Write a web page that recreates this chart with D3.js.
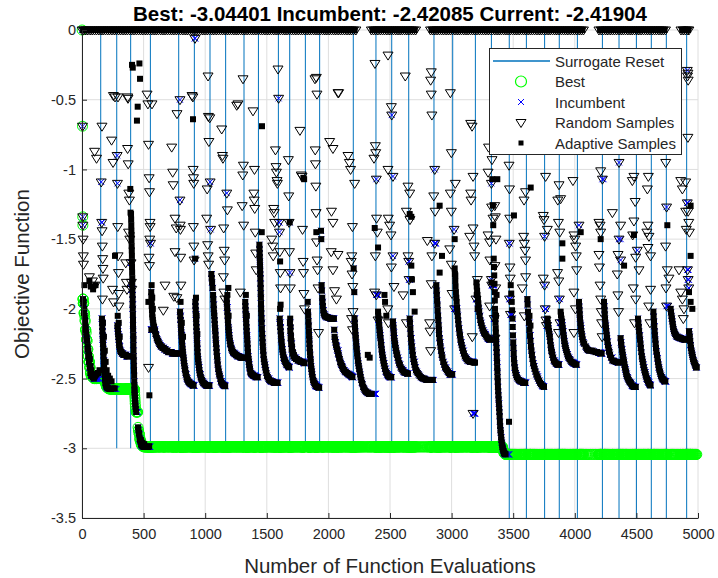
<!DOCTYPE html>
<html>
<head>
<meta charset="utf-8">
<script src="https://cdn.jsdelivr.net/npm/d3@7"></script>
<style>
body{margin:0;background:#fff;}
text{font-family:"Liberation Sans",Arial,Helvetica,sans-serif;}
</style>
</head>
<body>
<script>
// evaluations at which the surrogate was reset, and the y-limit in force when each line was drawn
var resetEvals = [152, 282, 395, 555, 785, 912, 1039, 1166, 1315, 1432, 1594, 1686, 1813, 1929, 2202, 2386, 2514,
                  2652, 2857, 3009, 3193, 3323, 3468, 3607, 3755, 3874, 4021, 4224, 4359, 4500, 4621, 4743, 4908];
var resetFloors = [-2.5, -3, -3, -3, -3, -3, -3, -3, -3, -3, -3, -3, -3, -3, -3, -3, -3,
                   -3, -3, -3, -3, -3, -3.5, -3.5, -3.5, -3.5, -3.5, -3.5, -3.5, -3.5, -3.5, -3.5, -3.5];

// random samples that came back as 0 (the band along the top)
var zeroSampleEvals = [1, 14, 31, 47, 66, 83, 101, 118, 137, 155, 171, 190, 208, 224, 243, 262, 279, 297, 314, 333,
  351, 368, 387, 404, 422, 441, 459, 476, 494, 513, 530, 548, 567, 585, 602, 620, 639, 657, 674, 693, 711, 728, 746,
  765, 783, 800, 819, 837, 854, 872, 891, 909, 926, 944, 963, 981, 998, 1016, 1035, 1053, 1070, 1089, 1107, 1124,
  1142, 1161, 1179, 1196, 1214, 1233, 1251, 1268, 1287, 1305, 1322, 1340, 1359, 1377, 1394, 1412, 1431, 1449, 1466,
  1485, 1503, 1520, 1538, 1557, 1575, 1592, 1610, 1629, 1647, 1664, 1683, 1701, 1718, 1736, 1755, 1773, 1790, 1808,
  1827, 1845, 1862, 1881, 1899, 1916, 1934, 1953, 1971, 1988, 2006, 2025, 2043, 2060, 2079, 2097, 2114, 2132, 2151,
  2169, 2186, 2204, 2223, 2349, 2367, 2384, 2402, 2421, 2439, 2456, 2475, 2493, 2510, 2528, 2547, 2565, 2582, 2600,
  2619, 2637, 2654, 2673, 2691, 2708, 2829, 2847, 2864, 2882, 2901, 2919, 2936, 2955, 2973, 2990, 3008, 3027, 3045,
  3062, 3080, 3099, 3117, 3134, 3153, 3171, 3188, 3206, 3225, 3243, 3260, 3278, 3297, 3315, 3332, 3351, 3369, 3386,
  3404, 3423, 3441, 3458, 3476, 3495, 3513, 3530, 3548, 3567, 3585, 3602, 3621, 3639, 3656, 3674, 3693, 3711, 3728,
  3746, 3765, 3783, 3800, 3819, 3837, 3854, 3872, 3891, 3909, 3926, 3944, 3963, 3981, 3998, 4016, 4035, 4053, 4070,
  4196, 4214, 4233, 4251, 4268, 4287, 4305, 4322, 4340, 4359, 4377, 4394, 4412, 4431, 4449, 4466, 4485, 4503, 4520,
  4538, 4557, 4575, 4592, 4610, 4629, 4647, 4664, 4683, 4701, 4718, 4736, 4862, 4880, 4897, 4915, 4926];

// adaptive samples that came back as 0
var zeroAdaptiveEvals = [9, 38, 57, 92, 128, 163, 199, 233, 270, 306, 342, 377, 413, 450, 485, 521, 557, 593, 629,
  665, 701, 737, 774, 810, 846, 881, 917, 953, 989, 1025, 1062, 1098, 1133, 1170, 1205, 1242, 1277, 1313, 1350, 1386,
  1421, 1458, 1494, 1529, 1566, 1601, 1638, 1673, 1709, 1746, 1781, 1818, 1853, 1890, 1925, 1962, 1997, 2034, 2069,
  2106, 2141, 2177, 2213, 2358, 2393, 2430, 2465, 2501, 2537, 2573, 2609, 2645, 2682, 2700, 2838, 2873, 2910, 2945,
  2981, 3017, 3053, 3090, 3125, 3162, 3197, 3233, 3269, 3306, 3341, 3378, 3413, 3449, 3486, 3521, 3557, 3593, 3629,
  3665, 3701, 3737, 3774, 3809, 3845, 3881, 3917, 3953, 3989, 4025, 4061, 4205, 4241, 4277, 4313, 4349, 4386, 4421,
  4457, 4493, 4529, 4565, 4601, 4637, 4673, 4709, 4728, 4871, 4906, 4920];

// other random samples [evaluation, objective]
var randomSamples = [
  [4,-0.69],[6,-1.34],[7,-1.40],[9,-1.50],[11,-1.62],[12,-1.68],[102,-0.87],[118,-0.92],[60,-1.77],[85,-1.80],[105,-1.83],[162,-0.69],
  [156,-1.09],[160,-1.38],[163,-1.44],[165,-1.55],[168,-1.64],[170,-1.71],[172,-1.78],[166,-1.93],[240,-0.79],[252,-0.95],[248,-1.86],[256,-1.95],[268,-0.48],[255,-0.47],
  [285,-0.90],[288,-1.10],[290,-1.41],[293,-1.62],[296,-1.74],[298,-1.89],[300,-1.98],[292,-0.48],[371,-0.48],[373,-0.49],[370,-0.85],[375,-0.96],[380,-1.17],[385,-1.22],[378,-1.45],[388,-1.50],[355,-1.67],[360,-1.81],[365,-1.86],
  [398,-1.67],[401,-1.81],[404,-1.86],[528,-0.46],[535,-0.53],[540,-0.82],[545,-1.06],[548,-1.16],[552,-1.38],[553,-1.41],[550,-1.50],[556,-1.53],[544,-1.63],[548,-1.69],[540,-2.42],[568,-0.53],
  [660,-2.01],[674,-1.83],[728,-0.84],[736,-1.02],[740,-1.11],[755,-1.35],[765,-1.42],[755,-1.59],[745,-1.91],[770,-1.92],[771,-0.60],[795,-0.50],
  [795,-1.22],[797,-1.40],[799,-1.43],[801,-1.63],[803,-1.83],[893,-0.47],[900,-0.48],[902,-1.00],[905,-1.06],[907,-1.10],[904,-1.41],[908,-1.55],[910,-1.65],[917,-0.06],
  [1012,-1.35],[1016,-1.14],[1020,-1.54],[1024,-1.62],[1028,-1.68],[1023,-0.33],[1026,-0.62],[1030,-0.80],[1040,-1.09],[1044,-1.43],[1037,-0.63],
  [1134,-0.71],[1140,-0.90],[1144,-0.92],[1150,-1.42],[1154,-1.58],[1158,-1.65],[1148,-1.77],[1152,-1.88],[1160,-1.93],
  [1175,-1.17],[1180,-1.29],[1256,-0.54],[1266,-0.53],[1307,-0.35],[1310,-0.97],[1305,-1.04],[1300,-1.26],[1312,-1.40],[1285,-1.88],
  [1388,-0.58],[1400,-1.00],[1395,-1.17],[1398,-1.22],[1402,-1.28],[1406,-1.45],[1410,-1.60],[1414,-1.72],
  [1540,-1.50],[1548,-1.55],[1552,-1.62],[1556,-1.28],[1560,-1.31],[1564,-1.38],[1570,-0.86],[1575,-0.98],[1578,-1.02],[1583,-1.08],[1586,-1.10],[1591,-0.28],[1596,-0.49],
  [1600,-1.38],[1603,-1.45],[1606,-1.59],[1609,-1.74],[1612,-1.85],[1675,-0.93],[1678,-1.19],[1681,-1.38],[1684,-1.59],[1688,-1.74],[1691,-1.85],
  [1769,-0.72],[1780,-1.04],[1786,-1.05],[1790,-1.43],[1795,-1.66],[1798,-1.74],[1801,-1.89],[1806,-2.00],
  [1891,-0.35],[1902,-0.34],[1907,-0.46],[1893,-0.86],[1895,-0.96],[1898,-1.12],[1900,-1.31],[1904,-1.52],[1908,-1.65],[1912,-1.72],[1916,-1.85],[1920,-2.17],
  [2083,-0.45],[2078,-0.45],[2010,-0.80],[2037,-0.85],[2025,-1.30],[2037,-1.38],[2023,-1.59],[2078,-1.61],[2037,-1.72],[2050,-1.87],[2065,-1.93],[2159,-0.90],[2170,-0.95],[2180,-1.00],[2213,-1.10],[2195,-1.41],[2190,-1.62],[2185,-1.66],[2192,-1.75],[2198,-1.84],[2200,-2.02],[2188,-2.07],[2196,-2.15],
  [2378,-0.24],[2381,-0.83],[2384,-0.88],[2389,-1.07],[2370,-0.92],[2391,-1.35],[2397,-1.45],[2381,-1.62],[2375,-1.88],[2389,-1.90],[2403,-2.08],
  [2484,-0.18],[2511,-0.55],[2514,-0.61],[2484,-1.00],[2524,-1.05],[2486,-1.35],[2497,-1.40],[2508,-1.47],[2524,-1.62],[2511,-1.70],[2532,-1.84],[2482,-2.00],[2487,-2.10],
  [2624,-0.33],[2646,-1.12],[2660,-1.17],[2633,-1.30],[2662,-1.36],[2646,-1.62],[2652,-1.66],[2655,-1.79],[2606,-1.90],[2633,-2.10],
  [2835,-0.30],[2830,-0.36],[2835,-0.46],[2840,-0.61],[2863,-1.00],[2855,-1.19],[2866,-1.30],[2803,-1.51],[2863,-1.53],[2840,-1.62],[2835,-1.82],[2822,-2.10],[2825,-2.16],[2830,-2.30],
  [2990,-0.45],[2998,-0.88],[3030,-1.10],[2990,-1.17],[2998,-1.30],[3020,-1.43],[2985,-1.57],[2998,-1.68],[3004,-1.89],[3025,-2.00],
  [3155,-0.67],[3166,-0.69],[3174,-1.05],[3155,-1.17],[3158,-1.22],[3174,-1.42],[3147,-1.48],[3182,-1.55],[3187,-1.62],[3209,-1.79],[3168,-2.20],[3174,-2.75],[3198,-1.93],
  [3300,-0.84],[3328,-0.93],[3296,-1.02],[3323,-1.10],[3325,-1.27],[3336,-1.35],[3296,-1.47],[3309,-1.52],[3311,-1.65],[3323,-1.79],[3326,-1.83],[3309,-1.98],
  [3466,-0.97],[3470,-1.14],[3472,-1.35],[3468,-1.53],[3474,-1.70],[3476,-1.78],[3470,-1.93],[3478,-2.04],[3350,-1.26],[3355,-1.34],[3360,-1.50],[3352,-1.69],[3358,-1.85],[3346,-2.07],[3352,-2.21],
  [3588,-1.22],[3600,-1.16],[3585,-1.48],[3590,-1.53],[3596,-1.58],[3600,-1.65],[3601,-1.77],[3574,-1.85],[3590,-2.05],
  [3763,-1.05],[3744,-1.33],[3750,-1.36],[3777,-1.43],[3755,-1.48],[3744,-1.78],[3755,-1.83],[3760,-2.00],[3766,-2.08],[3770,-2.12],
  [3872,-1.11],[3885,-1.21],[3862,-1.22],[3867,-1.38],[3878,-1.45],[3860,-1.74],[3870,-1.80],[3875,-1.93],[3880,-2.10],[3868,-2.17],
  [3985,-1.08],[4034,-1.40],[3993,-1.47],[4000,-1.50],[4007,-1.55],[4012,-1.62],[4015,-1.72],[3993,-1.88],[4005,-2.00],[3993,-2.17],
  [4210,-1.01],[4224,-1.07],[4196,-1.38],[4205,-1.40],[4210,-1.45],[4196,-1.61],[4200,-1.70],[4205,-1.83],[4210,-1.93],[4215,-2.02],[4218,-2.10],[4222,-2.20],
  [4359,-0.95],[4305,-1.31],[4372,-1.40],[4359,-1.50],[4351,-1.61],[4372,-1.65],[4345,-1.75],[4350,-1.90],[4355,-2.02],
  [4480,-1.05],[4467,-1.08],[4490,-1.23],[4480,-1.37],[4470,-1.47],[4507,-1.58],[4494,-1.63],[4521,-1.72],[4475,-1.85],[4494,-1.93],[4485,-2.10],
  [4597,-1.05],[4589,-1.14],[4594,-1.40],[4585,-1.45],[4602,-1.48],[4594,-1.56],[4615,-1.62],[4615,-1.86],[4600,-1.98],[4610,-2.10],
  [4738,-0.95],[4745,-1.27],[4737,-1.55],[4751,-1.72],[4764,-1.78],[4740,-1.85],[4745,-1.98],
  [4860,-1.08],[4900,-1.09],[4873,-1.14],[4900,-1.30],[4905,-1.43],[4846,-1.72],[4860,-1.88],[4873,-1.93],[4886,-2.00],[4881,-2.07],
  [4913,-0.29],[4915,-0.33],[4918,-0.31],[4920,-0.36],[4918,-0.77],[4913,-1.24],[4920,-1.30],[4925,-1.38],[4930,-1.45],[4915,-1.72],[4920,-1.79],[4925,-1.85]
];

// adaptive samples [evaluation, objective]
var adaptiveSamples = [
  [8,-1.93],[14,-1.95],[18,-2.00],[22,-2.05],[26,-2.09],[30,-2.13],[34,-2.17],[38,-2.20],[42,-2.23],[47,-2.27],[52,-2.30],[58,-2.33],[64,-2.36],[70,-2.41],[76,-2.44],[82,-2.47],[88,-2.49],[96,-2.50],[106,-2.48],[118,-2.47],[130,-2.46],[142,-2.44],[60,-1.80],[72,-1.84],[90,-1.86],[110,-1.83],[20,-1.83],
  [10,-1.96],[16,-2.03],[24,-2.08],[28,-2.15],[36,-2.22],[44,-2.29],[50,-2.34],[56,-2.38],[62,-2.42],[68,-2.46],[74,-2.48],[100,-2.49],[112,-2.47],
  [162,-2.07],[165,-2.13],[168,-2.19],[171,-2.25],[174,-2.31],[177,-2.37],[180,-2.42],[184,-2.47],[188,-2.51],[193,-2.54],[200,-2.56],[210,-2.57],[222,-2.575],[236,-2.575],[250,-2.57],[265,-2.57],[170,-2.10],[178,-2.20],[185,-2.30],[192,-2.38],[200,-2.44],[212,-2.48],[226,-2.50],[240,-2.52],
  [163,-2.10],[166,-2.16],[169,-2.22],[172,-2.28],[175,-2.34],[178,-2.40],[182,-2.45],[186,-2.49],[190,-2.53],[196,-2.55],[205,-2.565],
  [288,-2.12],[292,-2.16],[296,-2.20],[300,-2.24],[305,-2.27],[312,-2.30],[320,-2.31],[330,-2.32],[342,-2.33],[355,-2.33],[368,-2.34],[380,-2.34],[290,-2.05],[298,-2.10],[306,-2.20],[392,-1.14],[394,-1.31],
  [290,-2.14],[294,-2.18],[298,-2.22],[302,-2.26],[308,-2.29],[316,-2.31],[325,-2.32],[336,-2.33],[348,-2.33],[362,-2.34],[374,-2.34],
  [406,-0.25],[412,-0.27],[466,-0.24],[471,-0.35],[452,-0.55],[446,-0.65],
  [398,-1.32],[400,-1.40],[402,-1.47],[403,-1.55],[405,-1.62],[406,-1.70],[408,-1.78],[409,-1.86],[411,-1.93],[412,-2.00],[414,-2.08],[415,-2.15],[417,-2.22],[418,-2.30],[420,-2.37],[422,-2.44],[424,-2.52],[426,-2.58],[428,-2.62],[431,-2.66],[434,-2.70],[437,-2.72],[440,-2.74],
  [399,-1.36],[401,-1.44],[402,-1.51],[404,-1.58],[405,-1.66],[407,-1.74],[408,-1.82],[410,-1.90],[411,-1.97],[413,-2.04],[414,-2.12],[416,-2.19],[417,-2.26],[419,-2.34],[421,-2.41],[423,-2.48],[425,-2.55],[427,-2.60],[430,-2.64],[432,-2.68],
  [455,-2.85],[462,-2.89],[468,-2.93],[474,-2.95],[480,-2.97],[486,-2.98],[492,-2.985],[500,-2.99],[510,-2.99],[520,-2.99],[532,-2.99],[545,-2.985],[465,-2.90],[478,-2.94],[490,-2.96],[505,-2.97],[547,-2.62],
  [458,-2.87],[471,-2.94],[483,-2.975],[496,-2.985],[515,-2.99],[526,-2.99],[538,-2.99],
  [562,-1.88],[565,-1.95],[568,-2.01],[572,-2.06],[578,-2.10],[585,-2.13],[593,-2.16],[602,-2.19],[612,-2.22],[622,-2.24],[634,-2.26],[648,-2.27],[662,-2.28],[676,-2.29],[692,-2.30],[708,-2.31],[724,-2.31],[740,-2.32],[756,-2.32],[772,-2.32],[565,-1.83],[570,-1.92],[575,-2.00],[563,-2.15],
  [563,-1.91],[566,-1.98],[570,-2.04],[575,-2.08],[581,-2.12],[589,-2.15],[597,-2.18],[607,-2.21],[617,-2.23],[628,-2.25],[641,-2.27],[655,-2.28],[669,-2.29],[684,-2.30],[700,-2.31],[716,-2.31],[732,-2.32],[748,-2.32],[764,-2.32],[780,-2.32],
  [796,-2.02],[800,-2.08],[804,-2.14],[808,-2.19],[812,-2.24],[816,-2.29],[821,-2.33],[826,-2.37],[832,-2.41],[838,-2.44],[845,-2.47],[853,-2.50],[862,-2.52],[872,-2.53],[884,-2.54],[896,-2.545],[906,-2.55],[901,-0.64],[800,-1.95],[810,-2.10],[820,-2.20],
  [798,-2.05],[802,-2.11],[806,-2.17],[810,-2.22],[814,-2.27],[818,-2.31],[824,-2.35],[829,-2.39],[835,-2.43],[841,-2.46],[849,-2.49],[857,-2.51],[867,-2.525],[878,-2.535],[890,-2.54],[901,-2.55],
  [920,-1.95],[923,-2.01],[926,-2.07],[929,-2.13],[932,-2.19],[935,-2.25],[938,-2.31],[942,-2.36],[947,-2.40],[953,-2.44],[960,-2.47],[968,-2.50],[978,-2.52],[990,-2.535],[1002,-2.545],[1015,-2.55],[1028,-2.55],[925,-1.92],[930,-2.05],[936,-2.18],
  [921,-1.98],[924,-2.04],[927,-2.10],[930,-2.16],[933,-2.22],[936,-2.28],[940,-2.34],[944,-2.38],[950,-2.42],[956,-2.46],[964,-2.49],[973,-2.51],[984,-2.53],[996,-2.54],[1008,-2.55],[1022,-2.55],[1034,-2.55],
  [1050,-1.75],[1053,-1.78],[1060,-1.85],[1064,-1.90],[1066,-1.93],[1070,-2.00],[1074,-2.05],[1078,-2.11],[1082,-2.16],[1086,-2.22],[1091,-2.28],[1096,-2.34],[1102,-2.40],[1110,-2.45],[1118,-2.48],[1128,-2.52],[1140,-2.54],[1152,-2.55],[1162,-2.555],
  [1056,-1.81],[1068,-1.97],[1072,-2.03],[1076,-2.08],[1080,-2.14],[1084,-2.19],[1088,-2.25],[1093,-2.31],[1099,-2.37],[1106,-2.43],[1114,-2.47],[1123,-2.50],[1134,-2.53],[1146,-2.545],[1157,-2.55],
  [1175,-1.93],[1178,-1.99],[1182,-2.05],[1186,-2.10],[1190,-2.15],[1195,-2.19],[1200,-2.23],[1207,-2.26],[1215,-2.29],[1225,-2.31],[1236,-2.32],[1250,-2.33],[1264,-2.34],[1280,-2.345],[1296,-2.35],[1310,-2.35],[1180,-1.90],[1190,-2.05],
  [1176,-1.96],[1180,-2.02],[1184,-2.08],[1188,-2.13],[1192,-2.17],[1197,-2.21],[1203,-2.25],[1211,-2.28],[1220,-2.30],[1230,-2.315],[1243,-2.325],[1257,-2.335],[1272,-2.34],[1288,-2.35],[1303,-2.35],
  [1325,-1.95],[1328,-2.01],[1331,-2.07],[1335,-2.13],[1339,-2.19],[1343,-2.25],[1347,-2.31],[1352,-2.36],[1357,-2.40],[1363,-2.43],[1370,-2.46],[1380,-2.47],[1392,-2.48],[1405,-2.485],[1420,-2.49],[1330,-1.90],[1338,-2.05],
  [1326,-1.98],[1329,-2.04],[1333,-2.10],[1337,-2.16],[1341,-2.22],[1345,-2.28],[1349,-2.34],[1354,-2.38],[1360,-2.42],[1366,-2.45],[1375,-2.465],[1386,-2.475],[1398,-2.48],[1412,-2.49],[1426,-2.49],
  [1461,-0.69],[1440,-1.54],[1442,-1.60],[1444,-1.66],[1446,-1.72],[1448,-1.78],[1450,-1.85],[1452,-1.92],[1454,-2.00],[1457,-2.07],[1460,-2.14],[1464,-2.21],[1468,-2.27],[1473,-2.33],[1480,-2.38],[1488,-2.42],[1497,-2.46],[1508,-2.49],[1520,-2.51],[1535,-2.52],[1550,-2.525],[1565,-2.53],[1580,-2.53],
  [1441,-1.57],[1443,-1.63],[1445,-1.69],[1447,-1.75],[1449,-1.82],[1451,-1.89],[1453,-1.96],[1455,-2.03],[1458,-2.10],[1462,-2.18],[1466,-2.24],[1470,-2.30],[1476,-2.36],[1484,-2.40],[1492,-2.44],[1502,-2.48],[1514,-2.50],[1528,-2.515],[1542,-2.52],[1558,-2.53],[1572,-2.53],[1588,-2.53],
  [1605,-2.07],[1610,-2.13],[1615,-2.19],[1620,-2.24],[1626,-2.29],[1633,-2.33],[1641,-2.36],[1650,-2.38],[1660,-2.40],[1672,-2.41],[1682,-2.42],[1608,-2.00],[1612,-1.97],
  [1607,-2.10],[1612,-2.16],[1617,-2.22],[1623,-2.27],[1629,-2.31],[1637,-2.35],[1645,-2.37],[1655,-2.39],[1666,-2.405],[1677,-2.415],
  [1690,-2.07],[1693,-2.13],[1696,-2.19],[1700,-2.23],[1705,-2.27],[1712,-2.31],[1720,-2.33],[1730,-2.35],[1745,-2.36],[1760,-2.37],[1775,-2.38],[1790,-2.38],[1805,-2.39],[1797,-1.06],[1803,-1.07],
  [1688,-2.10],[1691,-2.16],[1694,-2.21],[1698,-2.25],[1702,-2.29],[1708,-2.32],[1716,-2.34],[1725,-2.35],[1737,-2.36],[1752,-2.37],[1767,-2.375],[1782,-2.38],[1798,-2.385],
  [1834,-2.02],[1838,-2.09],[1842,-2.16],[1845,-2.22],[1848,-2.28],[1852,-2.33],[1856,-2.38],[1862,-2.43],[1868,-2.47],[1876,-2.51],[1885,-2.53],[1896,-2.55],[1908,-2.56],[1920,-2.565],[1832,-1.95],[1940,-1.44],[1942,-1.50],
  [1836,-2.05],[1840,-2.12],[1843,-2.19],[1846,-2.25],[1850,-2.31],[1854,-2.36],[1859,-2.41],[1865,-2.45],[1872,-2.49],[1880,-2.52],[1890,-2.54],[1902,-2.555],[1914,-2.56],[1925,-2.565],
  [1945,-1.83],[1950,-1.92],[1955,-1.98],[1962,-2.03],[1972,-2.05],[1985,-2.06],[2000,-2.065],[2015,-2.07],[2030,-2.07],[2045,-2.07],[2050,-2.20],[2058,-2.24],[2066,-2.27],[2075,-2.30],[2083,-2.33],[2092,-2.36],[2100,-2.39],[2110,-2.41],[2120,-2.43],[2135,-2.45],[2150,-2.46],[2165,-2.47],[2180,-2.48],[2195,-2.49],
  [1947,-1.87],[1952,-1.95],[1958,-2.01],[1966,-2.04],[1978,-2.055],[1992,-2.06],[2008,-2.065],[2022,-2.07],[2038,-2.07],[2047,-2.15],[2054,-2.22],[2062,-2.26],[2070,-2.29],[2079,-2.32],[2087,-2.35],[2096,-2.38],[2105,-2.40],[2115,-2.42],[2127,-2.44],[2142,-2.455],[2157,-2.465],[2172,-2.475],[2188,-2.485],
  [2205,-1.71],[2210,-1.88],[2212,-2.07],[2216,-2.13],[2220,-2.19],[2225,-2.24],[2230,-2.29],[2236,-2.34],[2243,-2.39],[2250,-2.43],[2258,-2.47],[2267,-2.51],[2277,-2.54],[2288,-2.57],[2300,-2.59],[2315,-2.60],[2330,-2.61],[2345,-2.61],[2320,-2.33],[2335,-2.35],
  [2214,-2.10],[2218,-2.16],[2222,-2.21],[2227,-2.27],[2233,-2.32],[2239,-2.37],[2246,-2.41],[2254,-2.45],[2262,-2.49],[2272,-2.53],[2282,-2.56],[2294,-2.58],[2307,-2.595],[2322,-2.605],[2338,-2.61],[2352,-2.61],
  [2403,-2.02],[2408,-2.07],[2413,-2.12],[2418,-2.17],[2423,-2.21],[2429,-2.26],[2435,-2.31],[2442,-2.35],[2450,-2.39],[2460,-2.43],[2472,-2.46],[2484,-2.48],[2498,-2.49],[2510,-2.49],[2455,-1.90],[2460,-1.95],[2470,-2.05],
  [2405,-2.05],[2410,-2.10],[2415,-2.15],[2420,-2.19],[2426,-2.24],[2432,-2.29],[2438,-2.33],[2446,-2.37],[2455,-2.41],[2466,-2.45],[2478,-2.47],[2491,-2.485],[2504,-2.49],
  [2524,-2.09],[2528,-2.14],[2532,-2.19],[2537,-2.23],[2542,-2.26],[2550,-2.30],[2558,-2.33],[2568,-2.37],[2580,-2.40],[2594,-2.43],[2610,-2.45],[2625,-2.46],[2640,-2.465],
  [2526,-2.12],[2530,-2.17],[2534,-2.21],[2540,-2.25],[2546,-2.28],[2554,-2.32],[2563,-2.35],[2574,-2.39],[2587,-2.42],[2602,-2.44],[2617,-2.455],[2632,-2.46],[2646,-2.465],
  [2660,-1.32],[2673,-1.34],[2673,-1.69],[2678,-1.79],[2686,-1.88],[2700,-2.02],
  [2660,-2.07],[2665,-2.14],[2670,-2.21],[2677,-2.27],[2685,-2.33],[2695,-2.38],[2705,-2.42],[2718,-2.45],[2733,-2.47],[2750,-2.49],[2768,-2.50],[2785,-2.505],[2805,-2.51],[2825,-2.51],[2840,-2.51],
  [2662,-2.10],[2667,-2.18],[2673,-2.24],[2681,-2.30],[2690,-2.36],[2700,-2.40],[2711,-2.44],[2725,-2.46],[2741,-2.48],[2759,-2.495],[2777,-2.50],[2795,-2.51],[2815,-2.51],[2832,-2.51],[2848,-2.51],
  [2876,-1.83],[2885,-1.97],[2895,-2.12],[2906,-2.24],[2915,-2.30],[2925,-2.35],[2940,-2.40],[2955,-2.43],[2970,-2.45],[2985,-2.47],[3000,-2.47],[2903,-1.26],[2903,-1.74],[2922,-1.62],[2880,-1.90],[2890,-2.05],[2898,-2.18],
  [2878,-1.87],[2882,-1.94],[2887,-2.01],[2892,-2.08],[2897,-2.15],[2902,-2.21],[2910,-2.27],[2920,-2.33],[2932,-2.38],[2947,-2.42],[2962,-2.44],[2977,-2.46],[2992,-2.47],[3005,-2.47],
  [3025,-1.71],[3030,-1.80],[3035,-1.88],[3041,-1.95],[3047,-2.02],[3053,-2.08],[3060,-2.14],[3068,-2.19],[3077,-2.24],[3087,-2.28],[3100,-2.32],[3115,-2.35],[3130,-2.37],[3150,-2.38],[3170,-2.38],[3185,-2.385],[3030,-1.76],
  [3027,-1.75],[3032,-1.84],[3038,-1.92],[3044,-1.99],[3050,-2.05],[3056,-2.11],[3064,-2.17],[3072,-2.22],[3082,-2.26],[3093,-2.30],[3107,-2.34],[3122,-2.36],[3140,-2.375],[3160,-2.38],[3178,-2.385],[3190,-2.385],
  [3201,-1.81],[3207,-1.87],[3214,-1.93],[3220,-1.99],[3228,-2.05],[3238,-2.10],[3250,-2.14],[3263,-2.17],[3278,-2.19],[3292,-2.21],[3306,-2.22],[3318,-2.22],[3204,-1.90],[3212,-2.00],
  [3204,-1.84],[3210,-1.90],[3217,-1.96],[3224,-2.02],[3233,-2.08],[3244,-2.12],[3256,-2.155],[3270,-2.18],[3285,-2.20],[3299,-2.215],[3312,-2.22],
  [3330,-1.07],[3335,-1.26],[3338,-1.40],[3342,-1.64],[3346,-1.76],[3350,-1.88],[3352,-2.00],[3355,-2.07],[3358,-2.14],[3361,-2.21],[3364,-2.28],[3367,-2.35],[3370,-2.42],[3373,-2.49],[3376,-2.56],[3380,-2.62],[3384,-2.68],[3388,-2.74],[3392,-2.81],[3397,-2.87],[3402,-2.92],[3407,-2.96],[3412,-2.99],[3418,-3.01],[3424,-3.03],[3430,-3.04],[3438,-3.04401],[3466,-2.81],[3360,-2.05],[3365,-1.90],
  [3344,-1.70],[3348,-1.82],[3351,-1.94],[3353,-2.04],[3356,-2.10],[3359,-2.17],[3362,-2.24],[3366,-2.31],[3369,-2.38],[3372,-2.45],[3375,-2.52],[3378,-2.59],[3382,-2.65],[3386,-2.71],[3390,-2.77],[3394,-2.84],[3399,-2.89],[3404,-2.94],[3410,-2.975],[3415,-3.00],[3421,-3.02],[3427,-3.035],[3434,-3.04],
  [3480,-1.83],[3488,-1.95],[3494,-2.07],[3498,-2.19],[3502,-2.28],[3506,-2.36],[3512,-2.42],[3520,-2.46],[3530,-2.49],[3545,-2.51],[3560,-2.52],[3575,-2.525],[3590,-2.53],
  [3484,-1.89],[3491,-2.01],[3496,-2.13],[3500,-2.24],[3504,-2.32],[3509,-2.39],[3516,-2.44],[3525,-2.475],[3537,-2.50],[3552,-2.515],[3567,-2.52],[3582,-2.53],[3598,-2.53],
  [3615,-1.93],[3620,-2.02],[3628,-2.10],[3636,-2.19],[3644,-2.27],[3652,-2.33],[3662,-2.39],[3674,-2.43],[3688,-2.47],[3702,-2.50],[3718,-2.53],[3735,-2.55],[3750,-2.56],[3642,-1.13],[3632,-2.05],[3640,-2.12],
  [3617,-1.97],[3624,-2.06],[3632,-2.15],[3640,-2.23],[3648,-2.30],[3657,-2.36],[3668,-2.41],[3681,-2.45],[3695,-2.485],[3710,-2.515],[3726,-2.54],[3742,-2.555],
  [3777,-2.07],[3790,-2.16],[3804,-2.26],[3818,-2.33],[3830,-2.37],[3845,-2.39],[3860,-2.40],[3870,-2.40],[3783,-2.12],[3797,-2.20],[3810,-2.30],
  [3780,-2.10],[3787,-2.14],[3794,-2.18],[3800,-2.23],[3807,-2.28],[3814,-2.31],[3824,-2.35],[3837,-2.38],[3852,-2.395],[3866,-2.40],
  [3885,-2.02],[3899,-2.12],[3912,-2.21],[3926,-2.28],[3945,-2.34],[3972,-2.38],[4007,-2.40],[3899,-1.53],[3892,-2.07],[3905,-2.16],[3918,-2.25],[3935,-2.31],[3958,-2.36],[3990,-2.39],
  [3888,-2.045],[3895,-2.09],[3902,-2.14],[3909,-2.19],[3915,-2.23],[3922,-2.265],[3930,-2.295],[3940,-2.325],[3951,-2.35],[3965,-2.37],[3981,-2.385],[3998,-2.395],[4014,-2.40],
  [4034,-1.95],[4042,-2.07],[4053,-2.16],[4069,-2.24],[4088,-2.27],[4115,-2.30],[4142,-2.30],[4169,-2.31],[4210,-2.32],[4038,-2.01],[4047,-2.12],[4060,-2.20],[4100,-2.29],[4190,-2.315],
  [4036,-1.98],[4040,-2.04],[4045,-2.10],[4050,-2.14],[4056,-2.18],[4064,-2.22],[4076,-2.25],[4094,-2.28],[4108,-2.295],[4128,-2.30],[4155,-2.305],[4180,-2.31],[4200,-2.315],[4218,-2.32],
  [4237,-1.95],[4245,-2.07],[4256,-2.16],[4269,-2.26],[4286,-2.33],[4305,-2.37],[4332,-2.38],[4350,-2.385],[4241,-2.01],[4250,-2.12],[4262,-2.21],[4277,-2.30],
  [4239,-1.98],[4243,-2.04],[4248,-2.10],[4253,-2.14],[4259,-2.19],[4265,-2.235],[4273,-2.28],[4281,-2.31],[4295,-2.35],[4318,-2.375],[4341,-2.38],[4355,-2.385],
  [4372,-2.21],[4386,-2.31],[4399,-2.38],[4415,-2.45],[4432,-2.50],[4453,-2.53],[4480,-2.56],[4495,-2.56],[4378,-2.26],[4392,-2.35],[4407,-2.42],[4422,-2.48],[4442,-2.52],[4465,-2.55],
  [4375,-2.24],[4382,-2.29],[4389,-2.33],[4396,-2.365],[4403,-2.40],[4411,-2.435],[4418,-2.465],[4427,-2.49],[4437,-2.51],[4448,-2.525],[4459,-2.54],[4472,-2.555],[4488,-2.56],
  [4513,-2.07],[4526,-2.19],[4540,-2.31],[4556,-2.40],[4575,-2.47],[4594,-2.52],[4615,-2.55],[4519,-2.13],[4533,-2.25],[4548,-2.36],[4565,-2.44],[4584,-2.50],[4605,-2.54],
  [4516,-2.10],[4522,-2.16],[4529,-2.22],[4536,-2.28],[4544,-2.34],[4552,-2.38],[4560,-2.42],[4570,-2.455],[4579,-2.485],[4589,-2.51],[4600,-2.53],[4610,-2.545],
  [4638,-2.02],[4648,-2.16],[4659,-2.28],[4675,-2.38],[4691,-2.45],[4710,-2.50],[4729,-2.52],[4643,-2.09],[4653,-2.22],[4667,-2.33],[4682,-2.42],[4700,-2.48],[4720,-2.51],
  [4640,-2.055],[4645,-2.125],[4650,-2.19],[4656,-2.25],[4662,-2.305],[4671,-2.355],[4679,-2.40],[4686,-2.435],[4695,-2.465],[4705,-2.49],[4715,-2.505],[4725,-2.515],[4735,-2.52],
  [4778,-2.00],[4792,-2.09],[4805,-2.16],[4827,-2.20],[4854,-2.21],[4886,-2.22],[4785,-2.05],[4798,-2.13],[4815,-2.18],[4840,-2.205],[4870,-2.215],[4900,-2.22],
  [4781,-2.025],[4788,-2.07],[4795,-2.11],[4801,-2.145],[4810,-2.17],[4821,-2.19],[4833,-2.20],[4847,-2.207],[4862,-2.212],[4878,-2.217],[4893,-2.22],
  [4927,-2.16],[4940,-2.26],[4954,-2.33],[4968,-2.38],[4977,-2.40],[4984,-2.42085],[4933,-2.20],[4947,-2.30],[4960,-2.36],[4940,-1.26],[4940,-1.62],[4927,-1.88],[4940,-1.95],[4954,-2.00],
  [4930,-2.18],[4937,-2.23],[4943,-2.28],[4950,-2.315],[4957,-2.345],[4964,-2.37],[4972,-2.39],[4980,-2.41],
  // scattered adaptive points between the curves
  [268,-1.62],[539,-1.95],[918,-1.64],[1188,-1.85],[1459,-1.45],[1608,-1.66],[1686,-1.38],[1902,-1.45],[2376,-1.42],[2403,-1.56],
  [3025,-1.50],[3323,-1.81],[3371,-1.07],[3506,-1.33],[3899,-1.64],[4048,-1.45],[4210,-1.50],[4400,-1.69],[4480,-1.47],[4751,-1.40],
  [4990,-2.41904]
];

var xTickValues = [0, 500, 1000, 1500, 2000, 2500, 3000, 3500, 4000, 4500, 5000];
var yTickValues = [0, -0.5, -1, -1.5, -2, -2.5, -3, -3.5];
var legendLabels = ["Surrogate Reset", "Best", "Incumbent", "Random Samples", "Adaptive Samples"];

function init(){
    var w = 718;
    var h = 578;
    var left = 82, right = 698, top = 30, bottom = 518;
    var ink = "#262626";

    var xScale = d3.scaleLinear().domain([0, 5000]).range([left, right]);
    var yScale = d3.scaleLinear().domain([-3.5, 0]).range([bottom, top]);

    var svg = d3.select("body").append("svg")
        .attr("width", w)
        .attr("height", h)
        .style("background", "#fff");

    var zeroRandom = zeroSampleEvals.map(function(e){ return [e, 0]; });
    var zeroAdaptive = zeroAdaptiveEvals.map(function(e){ return [e, 0]; });
    var randomAll = zeroRandom.concat(randomSamples);
    var adaptiveAll = zeroAdaptive.concat(adaptiveSamples);

    // all samples in evaluation order
    var samples = randomAll.concat(adaptiveAll)
        .sort(function(a, b){ return a[0] - b[0]; });

    // best so far and incumbent (best since the last reset)
    var bestTrace = [], incTrace = [];
    var best = Infinity, inc = Infinity, seg = -1;
    samples.forEach(function(d){
        best = Math.min(best, d[1]);
        bestTrace.push([d[0], best]);
        var s = d3.bisectRight(resetEvals, d[0]);
        if (s !== seg) { seg = s; inc = Infinity; }
        inc = Math.min(inc, d[1]);
        incTrace.push([d[0], inc]);
    });
    var lastSeg = samples.filter(function(d){ return d[0] >= resetEvals[resetEvals.length - 1]; });
    var titleText = "Best: " + d3.min(samples, function(d){ return d[1]; }).toFixed(5) +
        " Incumbent: " + d3.min(lastSeg, function(d){ return d[1]; }).toFixed(5) +
        " Current: " + samples[samples.length - 1][1].toFixed(5);

    // grid
    var grid = svg.append("g").attr("stroke", "#dedede").attr("stroke-width", 1);
    grid.selectAll(".gx").data(xTickValues).enter().append("line")
        .attr("x1", function(d){ return xScale(d); }).attr("x2", function(d){ return xScale(d); })
        .attr("y1", top).attr("y2", bottom);
    grid.selectAll(".gy").data(yTickValues).enter().append("line")
        .attr("x1", left).attr("x2", right)
        .attr("y1", function(d){ return yScale(d); }).attr("y2", function(d){ return yScale(d); });

    // surrogate reset lines
    svg.append("g").selectAll("line")
        .data(resetEvals)
        .enter()
        .append("line")
        .attr("x1", function(d){ return xScale(d); })
        .attr("x2", function(d){ return xScale(d); })
        .attr("y1", function(d, i){ return yScale(resetFloors[i]); })
        .attr("y2", yScale(0))
        .attr("stroke", "#0072BD")
        .attr("stroke-width", 1);

    // best
    svg.append("g").selectAll("circle")
        .data(bestTrace)
        .enter()
        .append("circle")
        .attr("cx", function(d){ return xScale(d[0]); })
        .attr("cy", function(d){ return yScale(d[1]); })
        .attr("r", 5)
        .attr("fill", "none")
        .attr("stroke", "#00ff00")
        .attr("stroke-width", 1);

    // incumbent
    svg.append("g").selectAll("path")
        .data(incTrace)
        .enter()
        .append("path")
        .attr("transform", function(d){ return "translate(" + xScale(d[0]) + "," + yScale(d[1]) + ")"; })
        .attr("d", "M-3,-3L3,3M-3,3L3,-3")
        .attr("stroke", "#0000ff")
        .attr("stroke-width", 1);

    var triPath = "M-5,-3L5,-3L0,5Z";

    // random samples
    svg.append("g").selectAll("path")
        .data(randomAll)
        .enter()
        .append("path")
        .attr("transform", function(d){ return "translate(" + xScale(d[0]) + "," + yScale(d[1]) + ")"; })
        .attr("d", triPath)
        .attr("fill", "none")
        .attr("stroke", "#000")
        .attr("stroke-width", 1);

    // adaptive samples
    svg.append("g").selectAll("rect")
        .data(adaptiveAll)
        .enter()
        .append("rect")
        .attr("x", function(d){ return xScale(d[0]) - 3; })
        .attr("y", function(d){ return yScale(d[1]) - 3; })
        .attr("width", 6)
        .attr("height", 6)
        .attr("fill", "#000");

    // axes
    var xAxis = d3.axisBottom(xScale).tickValues(xTickValues).tickSizeInner(-5).tickSizeOuter(0).tickPadding(11)
        .tickFormat(function(d){ return String(d); });
    var yAxis = d3.axisLeft(yScale).tickValues(yTickValues).tickSizeInner(-5).tickSizeOuter(0).tickPadding(6)
        .tickFormat(function(d){ return String(d); });

    var gx = svg.append("g").attr("transform", "translate(0," + bottom + ")").call(xAxis);
    var gy = svg.append("g").attr("transform", "translate(" + left + ",0)").call(yAxis);
    [gx, gy].forEach(function(g){
        g.select(".domain").attr("stroke", ink);
        g.selectAll(".tick line").attr("stroke", ink);
        g.selectAll(".tick text").attr("fill", ink)
            .style("font-size", "14.5px")
            .style("font-family", "'Liberation Sans', Arial, sans-serif");
    });

    // title and labels
    svg.append("text")
        .attr("x", (left + right) / 2)
        .attr("y", 21)
        .attr("text-anchor", "middle")
        .style("font-size", "20.5px")
        .style("font-weight", "bold")
        .attr("fill", "#000")
        .text(titleText);

    svg.append("text")
        .attr("x", (left + right) / 2)
        .attr("y", 573)
        .attr("text-anchor", "middle")
        .style("font-size", "20.5px")
        .attr("fill", ink)
        .text("Number of Function Evaluations");

    svg.append("text")
        .attr("transform", "translate(29," + (top + bottom) / 2 + ") rotate(-90)")
        .attr("text-anchor", "middle")
        .style("font-size", "20.5px")
        .attr("fill", ink)
        .text("Objective Function");

    // legend
    var lg = svg.append("g");
    lg.append("rect")
        .attr("x", 489.5).attr("y", 48.5)
        .attr("width", 192).attr("height", 106)
        .attr("fill", "#fff")
        .attr("stroke", ink)
        .attr("stroke-width", 1);
    var rowY = [61, 81.5, 102, 122.5, 143];
    lg.append("line").attr("x1", 493).attr("x2", 550).attr("y1", rowY[0]).attr("y2", rowY[0])
        .attr("stroke", "#0072BD").attr("stroke-width", 1.5);
    lg.append("circle").attr("cx", 521).attr("cy", rowY[1]).attr("r", 5.5)
        .attr("fill", "none").attr("stroke", "#00ff00").attr("stroke-width", 1.2);
    lg.append("path").attr("transform", "translate(521," + rowY[2] + ")")
        .attr("d", "M-3,-3L3,3M-3,3L3,-3").attr("stroke", "#0000ff").attr("stroke-width", 1);
    lg.append("path").attr("transform", "translate(521," + rowY[3] + ")")
        .attr("d", triPath).attr("fill", "none").attr("stroke", "#000").attr("stroke-width", 1);
    lg.append("rect").attr("x", 518.5).attr("y", rowY[4] - 2.5).attr("width", 5).attr("height", 5).attr("fill", "#000");
    lg.selectAll("text")
        .data(legendLabels)
        .enter()
        .append("text")
        .attr("x", 555)
        .attr("y", function(d, i){ return rowY[i] + 5.5; })
        .style("font-size", "15px")
        .attr("fill", ink)
        .text(function(d){ return d; });
}
window.onload = init;
</script>
</body>
</html>
